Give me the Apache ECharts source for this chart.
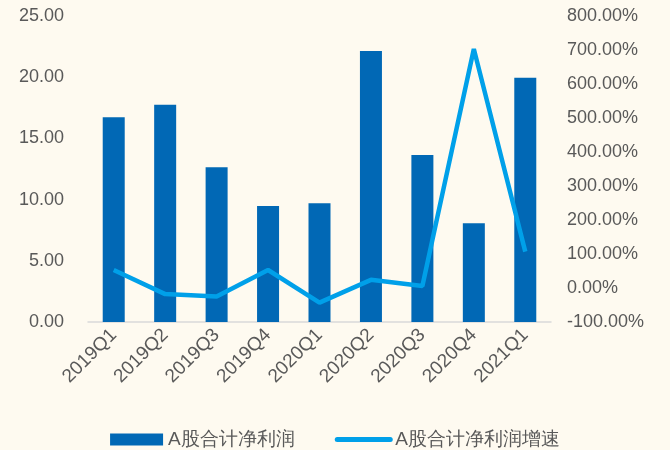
<!DOCTYPE html>
<html><head><meta charset="utf-8">
<script src="https://cdn.jsdelivr.net/npm/echarts@6/dist/echarts.min.js"></script>
<style>html,body{margin:0;padding:0;background:#FEFAF0;}#c{width:670px;height:450px;}</style>
</head><body><div id="c"></div>
<script>
const categories = ['2019Q1','2019Q2','2019Q3','2019Q4','2020Q1','2020Q2','2020Q3','2020Q4','2021Q1'];
const netProfit = [16.72, 17.75, 12.64, 9.48, 9.70, 22.14, 13.64, 8.06, 19.96];
const growthPct = [53, -18, -25, 53, -43, 24, 6, 703, 107];
const seriesNames = ['A股合计净利润', 'A股合计净利润增速'];

const font = 'Liberation Sans, Arial, sans-serif';
const chart = echarts.init(document.getElementById('c'));
chart.setOption({
  backgroundColor: '#FEFAF0',
  animation: false,
  textStyle: { fontFamily: font },
  grid: { left: 88, right: 119, top: 16, bottom: 128 },
  legend: {
    top: 425, left: 'center', itemGap: 40, itemWidth: 53, itemHeight: 12,
    textStyle: { fontSize: 19, color: '#595959', fontFamily: font },
    data: [{ name: seriesNames[0], icon: 'rect' },
           { name: seriesNames[1], itemStyle: { opacity: 0 },
             lineStyle: { width: 5, cap: 'round', color: '#00A0E9' } }]
  },
  xAxis: {
    type: 'category', data: categories,
    axisLine: { lineStyle: { color: '#D9D9D9', width: 1.5 } },
    axisTick: { inside: true, length: 5, lineStyle: { color: '#D9D9D9' } },
    axisLabel: { rotate: 45, fontSize: 19, color: '#595959', margin: 10, interval: 0 }
  },
  yAxis: [{
    type: 'value', min: 0, max: 25, interval: 5,
    splitLine: { show: false }, axisLine: { show: false }, axisTick: { show: false },
    axisLabel: { fontSize: 18, color: '#595959', margin: 24, formatter: v => v.toFixed(2) }
  }, {
    type: 'value', min: -100, max: 800, interval: 100,
    splitLine: { show: false }, axisLine: { show: false }, axisTick: { show: false },
    axisLabel: { fontSize: 18, color: '#595959', margin: 16, formatter: v => v.toFixed(2) + '%' }
  }],
  series: [{
    name: seriesNames[0], type: 'bar', data: netProfit, barWidth: 22,
    itemStyle: { color: '#0168B5' }
  }, {
    name: seriesNames[1], type: 'line', yAxisIndex: 1, data: growthPct,
    symbol: 'none', lineStyle: { color: '#00A0E9', width: 4.5 }, itemStyle: { color: '#00A0E9' }
  }]
});
</script></body></html>
